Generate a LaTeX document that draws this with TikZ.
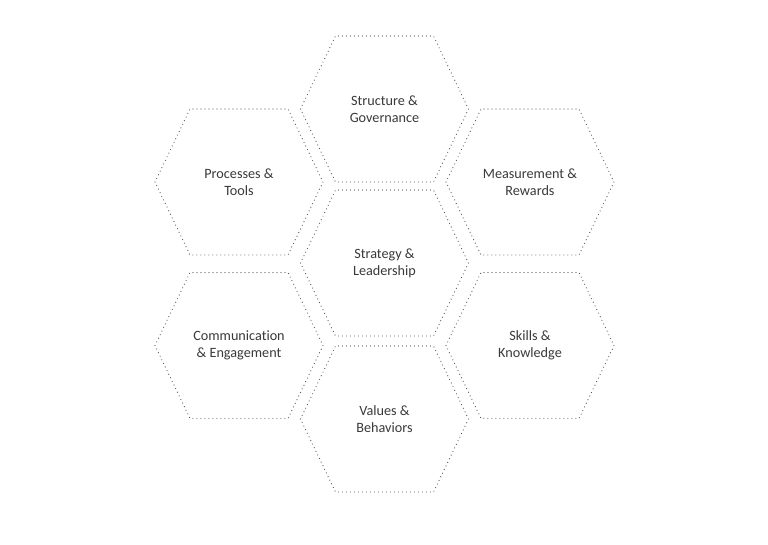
\documentclass[tikz,border=0pt]{standalone}
\usepackage{fontspec}
\setmainfont[Ligatures=NoCommon]{Carlito}
\definecolor{txt}{HTML}{3A3A3A}
\definecolor{dotc}{HTML}{555555}
\tikzset{
  hexline/.style={draw=dotc, line width=1.2pt, line cap=round, dash pattern=on 0pt off 4pt},
  hexlabel/.style={text=txt, align=center, font=\fontsize{14.2}{17}\selectfont, inner sep=0pt}
}
\newcommand{\hexat}[1]{%
  \draw[hexline, shift={(#1.center)}] (-84,0) -- (-49,-73) -- (49,-73) -- (84,0) -- (49,73) -- (-49,73) -- cycle;}
\begin{document}
\begin{tikzpicture}[x=1pt,y=-1pt]
\useasboundingbox (0,0) rectangle (768,544);
\fill[white] (0,0) rectangle (768,544);
\node[hexlabel] (structure) at (384.5,109) {Structure \&\\Governance};
\node[hexlabel] (processes) at (239,182) {Processes \&\\Tools};
\node[hexlabel] (measurement) at (530,182) {Measurement \&\\Rewards};
\node[hexlabel] (strategy) at (384.5,263) {Strategy \&\\Leadership};
\node[hexlabel] (communication) at (239,345.5) {Communication\\\& Engagement};
\node[hexlabel] (skills) at (530,345.5) {Skills \&\\Knowledge};
\node[hexlabel] (values) at (384.5,419) {Values \&\\Behaviors};
\hexat{structure}
\hexat{processes}
\hexat{measurement}
\hexat{strategy}
\hexat{communication}
\hexat{skills}
\hexat{values}
\end{tikzpicture}
\end{document}
